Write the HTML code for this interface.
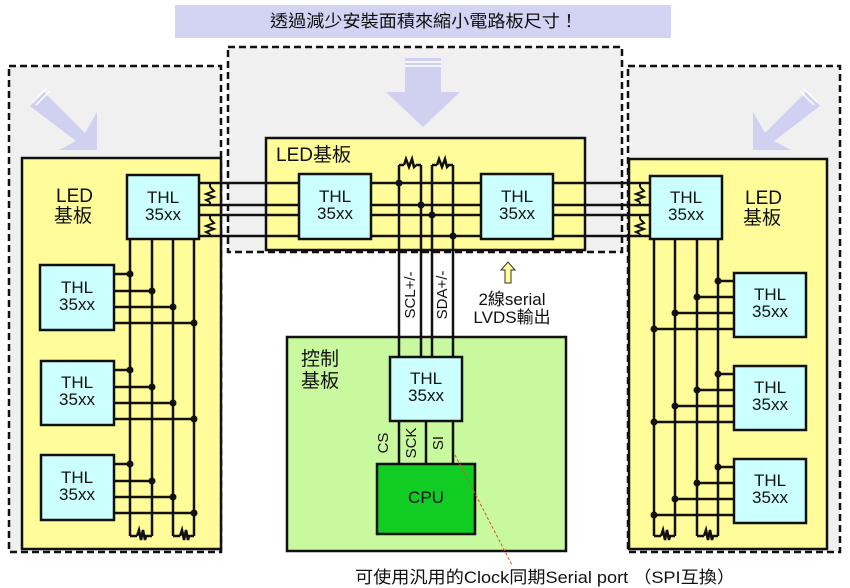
<!DOCTYPE html>
<html><head><meta charset="utf-8"><style>
body{margin:0;background:#fff}
svg{display:block}
text{font-family:"Liberation Sans","Noto Sans CJK TC",sans-serif;fill:#111}
</style></head><body>
<svg width="850" height="588" viewBox="0 0 850 588" xmlns="http://www.w3.org/2000/svg">
<!-- title -->
<rect x="175" y="5" width="496" height="33" fill="#d3d3f3"/>
<text x="270" y="27" font-size="17" textLength="308" lengthAdjust="spacingAndGlyphs">透過減少安裝面積來縮小電路板尺寸！</text>
<!-- dashed boxes -->
<g fill="#f0f0f0" stroke="#111" stroke-width="2.5" stroke-dasharray="7,4">
<rect x="9" y="66" width="212" height="486"/>
<rect x="228" y="47" width="394" height="205"/>
<rect x="628" y="66" width="212" height="486"/>
</g>
<!-- big arrows -->
<g fill="#d0d0f0">
<polygon points="405,58 441,58 441,92 460,92 423,127 386,92 405,92"/>
<polygon points="30,106 44,92 85,133 97,112 97,150 59,150 76,141"/>
<polygon points="820,106 806,92 765,133 753,112 753,150 791,150 774,141"/>
</g>
<g stroke="#fff" stroke-width="1.5">
<line x1="405" y1="62" x2="441" y2="62"/><line x1="405" y1="66" x2="441" y2="66"/>
<line x1="33" y1="102" x2="47" y2="88"/><line x1="36" y1="105" x2="50" y2="91"/>
<line x1="817" y1="102" x2="803" y2="88"/><line x1="814" y1="105" x2="800" y2="91"/>
</g>
<!-- boards -->
<g stroke="#111" stroke-width="2.5">
<rect x="22" y="158" width="199" height="391" fill="#fffc99"/>
<rect x="266" y="138" width="319" height="112" fill="#fffc99"/>
<rect x="629" y="159" width="198" height="390" fill="#fffc99"/>
<rect x="287" y="337" width="279" height="214" fill="#c9f99f"/>
</g>
<text x="56" y="202" font-size="19">LED</text><text x="54" y="222" font-size="19">基板</text>
<text x="276" y="161" font-size="19">LED基板</text>
<text x="745" y="204" font-size="19">LED</text><text x="743" y="224" font-size="19">基板</text>
<text x="301" y="365" font-size="19">控制</text><text x="301" y="387" font-size="19">基板</text>
<!-- wires -->
<g stroke="#111" stroke-width="2.5" fill="none">
<line x1="199" y1="183" x2="650" y2="183"/><line x1="199" y1="205" x2="650" y2="205"/>
<line x1="199" y1="215" x2="650" y2="215"/><line x1="199" y1="236" x2="650" y2="236"/>
<line x1="130" y1="239" x2="130" y2="536"/><line x1="152" y1="239" x2="152" y2="536"/>
<line x1="173" y1="239" x2="173" y2="536"/><line x1="194" y1="239" x2="194" y2="536"/>
<line x1="130" y1="536" x2="137" y2="536"/><line x1="145" y1="536" x2="152" y2="536"/>
<line x1="173" y1="536" x2="180" y2="536"/><line x1="188" y1="536" x2="194" y2="536"/>
<line x1="114" y1="274" x2="130" y2="274"/><line x1="114" y1="291" x2="152" y2="291"/><line x1="114" y1="307" x2="173" y2="307"/><line x1="114" y1="323" x2="194" y2="323"/>
<line x1="114" y1="370" x2="130" y2="370"/><line x1="114" y1="387" x2="152" y2="387"/><line x1="114" y1="403" x2="173" y2="403"/><line x1="114" y1="419" x2="194" y2="419"/>
<line x1="114" y1="464" x2="130" y2="464"/><line x1="114" y1="481" x2="152" y2="481"/><line x1="114" y1="497" x2="173" y2="497"/><line x1="114" y1="513" x2="194" y2="513"/>
<line x1="654" y1="239" x2="654" y2="536"/><line x1="675" y1="239" x2="675" y2="536"/>
<line x1="697" y1="239" x2="697" y2="536"/><line x1="718" y1="239" x2="718" y2="536"/>
<line x1="654" y1="536" x2="661" y2="536"/><line x1="669" y1="536" x2="675" y2="536"/>
<line x1="697" y1="536" x2="704" y2="536"/><line x1="712" y1="536" x2="718" y2="536"/>
<line x1="718" y1="281" x2="734" y2="281"/><line x1="697" y1="297" x2="734" y2="297"/><line x1="675" y1="313" x2="734" y2="313"/><line x1="654" y1="329" x2="734" y2="329"/>
<line x1="718" y1="374" x2="734" y2="374"/><line x1="697" y1="390" x2="734" y2="390"/><line x1="675" y1="406" x2="734" y2="406"/><line x1="654" y1="422" x2="734" y2="422"/>
<line x1="718" y1="467" x2="734" y2="467"/><line x1="697" y1="483" x2="734" y2="483"/><line x1="675" y1="499" x2="734" y2="499"/><line x1="654" y1="515" x2="734" y2="515"/>
<line x1="399" y1="165" x2="399" y2="357"/><line x1="421" y1="165" x2="421" y2="357"/>
<line x1="432" y1="165" x2="432" y2="357"/><line x1="453" y1="165" x2="453" y2="357"/>
<line x1="399" y1="165" x2="404" y2="165"/><line x1="416" y1="165" x2="421" y2="165"/>
<line x1="432" y1="165" x2="437" y2="165"/><line x1="448" y1="165" x2="453" y2="165"/>
<path d="M404 165 L406 159 L409 167 L412 159 L414 167 L416 165"/>
<path d="M437 165 L439 159 L442 167 L445 159 L447 167 L449 165"/>
<path d="M137 536 L139 530 L141 540 L143 530 L145 540 L146 536"/>
<path d="M180 536 L182 530 L184 540 L186 530 L188 540 L189 536"/>
<path d="M661 536 L663 530 L665 540 L667 530 L669 540 L670 536"/>
<path d="M704 536 L706 530 L708 540 L710 530 L712 540 L713 536"/>
<line x1="399" y1="421" x2="399" y2="464"/><line x1="426" y1="421" x2="426" y2="464"/><line x1="453" y1="421" x2="453" y2="464"/>
</g>
<g stroke="#111" stroke-width="2" fill="none">
<path d="M210 187 L214 191 L206 194 L214 197 L206 200 L210 202"/>
<path d="M210 219 L214 223 L206 226 L214 229 L206 232 L210 234"/>
<path d="M640 187 L644 191 L636 194 L644 197 L636 200 L640 202"/>
<path d="M640 219 L644 223 L636 226 L644 229 L636 232 L640 234"/>
<line x1="210" y1="183" x2="210" y2="187"/><line x1="210" y1="202" x2="210" y2="205"/>
<line x1="210" y1="215" x2="210" y2="219"/><line x1="210" y1="234" x2="210" y2="236"/>
<line x1="640" y1="183" x2="640" y2="187"/><line x1="640" y1="202" x2="640" y2="205"/>
<line x1="640" y1="215" x2="640" y2="219"/><line x1="640" y1="234" x2="640" y2="236"/>
</g>
<g fill="#111">
<circle cx="130" cy="274" r="3.5"/><circle cx="152" cy="291" r="3.5"/><circle cx="173" cy="307" r="3.5"/><circle cx="194" cy="323" r="3.5"/>
<circle cx="130" cy="370" r="3.5"/><circle cx="152" cy="387" r="3.5"/><circle cx="173" cy="403" r="3.5"/><circle cx="194" cy="419" r="3.5"/>
<circle cx="130" cy="464" r="3.5"/><circle cx="152" cy="481" r="3.5"/><circle cx="173" cy="497" r="3.5"/><circle cx="194" cy="513" r="3.5"/>
<circle cx="718" cy="281" r="3.5"/><circle cx="697" cy="297" r="3.5"/><circle cx="675" cy="313" r="3.5"/><circle cx="654" cy="329" r="3.5"/>
<circle cx="718" cy="374" r="3.5"/><circle cx="697" cy="390" r="3.5"/><circle cx="675" cy="406" r="3.5"/><circle cx="654" cy="422" r="3.5"/>
<circle cx="718" cy="467" r="3.5"/><circle cx="697" cy="483" r="3.5"/><circle cx="675" cy="499" r="3.5"/><circle cx="654" cy="515" r="3.5"/>
<circle cx="399" cy="183" r="3.5"/><circle cx="421" cy="205" r="3.5"/><circle cx="432" cy="215" r="3.5"/><circle cx="453" cy="236" r="3.5"/>
</g>
<g fill="#ccffff" stroke="#111" stroke-width="2.5">
<rect x="127" y="175" width="72" height="64"/>
<rect x="40" y="265" width="74" height="65"/><rect x="41" y="361" width="73" height="64"/><rect x="41" y="455" width="73" height="65"/>
<rect x="299" y="174" width="72" height="65"/><rect x="481" y="174" width="72" height="65"/>
<rect x="650" y="176" width="72" height="63"/>
<rect x="734" y="273" width="72" height="64"/><rect x="734" y="366" width="72" height="64"/><rect x="734" y="459" width="72" height="64"/>
<rect x="390" y="357" width="72" height="64"/>
</g>
<rect x="377" y="464" width="98" height="70" fill="#11cc22" stroke="#111" stroke-width="2.5"/>
<text x="426" y="503" font-size="17" text-anchor="middle">CPU</text>
<g font-size="17" text-anchor="middle">
<text x="163" y="203">THL</text><text x="163" y="220">35xx</text>
<text x="77" y="293">THL</text><text x="77" y="310">35xx</text>
<text x="77" y="388">THL</text><text x="77" y="405">35xx</text>
<text x="77" y="483">THL</text><text x="77" y="500">35xx</text>
<text x="335" y="202">THL</text><text x="335" y="219">35xx</text>
<text x="517" y="202">THL</text><text x="517" y="219">35xx</text>
<text x="686" y="203">THL</text><text x="686" y="220">35xx</text>
<text x="770" y="300">THL</text><text x="770" y="317">35xx</text>
<text x="770" y="393">THL</text><text x="770" y="410">35xx</text>
<text x="770" y="486">THL</text><text x="770" y="503">35xx</text>
<text x="426" y="384">THL</text><text x="426" y="401">35xx</text>
</g>
<g font-size="15" text-anchor="middle">
<text transform="translate(415,295) rotate(-90)">SCL+/-</text>
<text transform="translate(447,295) rotate(-90)">SDA+/-</text>
<text transform="translate(388,443) rotate(-90)">CS</text>
<text transform="translate(416,443) rotate(-90)">SCK</text>
<text transform="translate(443,443) rotate(-90)">SI</text>
</g>
<polygon points="508,262 515,270 511,270 511,283 505,283 505,270 501,270" fill="#ffff99" stroke="#333" stroke-width="1"/>
<text x="512" y="305" font-size="17" text-anchor="middle">2線serial</text>
<text x="512" y="323" font-size="17" text-anchor="middle">LVDS輸出</text>
<line x1="455" y1="455" x2="512" y2="565" stroke="#e05030" stroke-width="1" stroke-dasharray="3,2"/>
<text x="355" y="583" font-size="17" textLength="380" lengthAdjust="spacingAndGlyphs">可使用汎用的Clock同期Serial port （SPI互換）</text>
</svg>
</body></html>
